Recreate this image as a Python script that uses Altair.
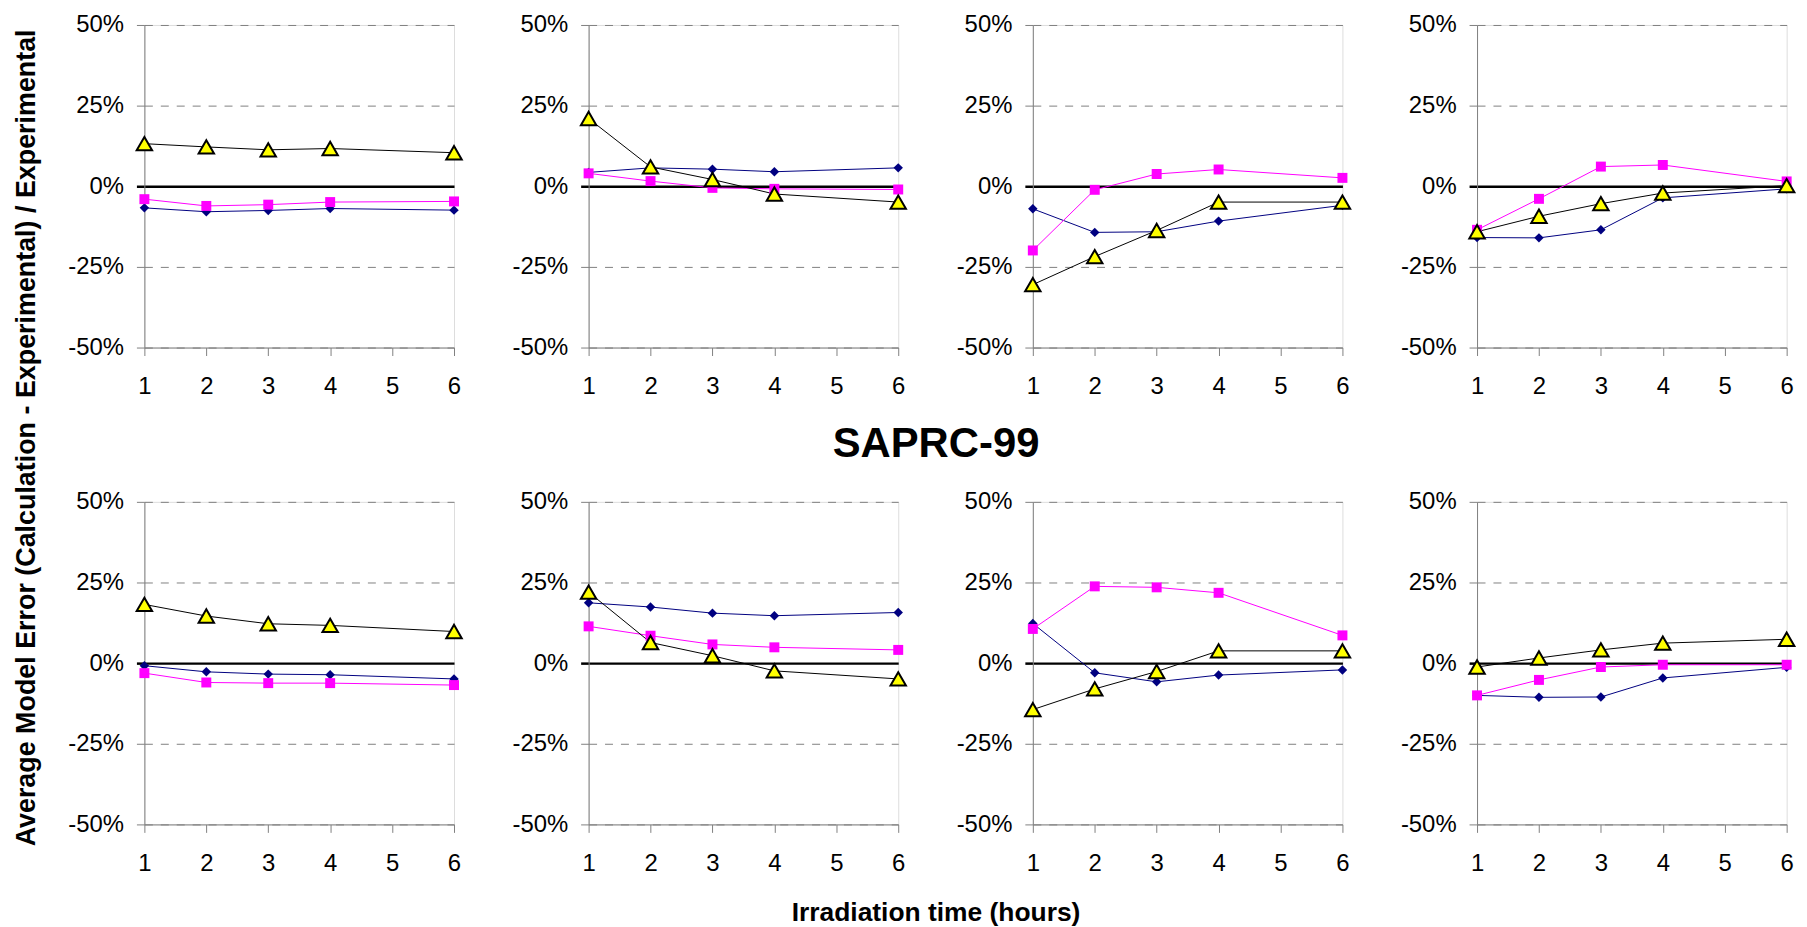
import altair as alt
import pandas as pd

FONT = "Liberation Sans, Arial, sans-serif"

HOURS = [1, 2, 3, 4, 6]
SERIES = ["diamond", "square", "triangle"]

# Values in percent (top row, then bottom row)
p1_diamond = [-6.7, -7.9, -7.5, -6.9, -7.4]
p1_square = [-4.0, -6.1, -5.7, -4.9, -4.7]
p1_triangle = [13.2, 12.2, 11.3, 11.7, 10.4]

p2_diamond = [4.3, 5.7, 5.3, 4.5, 5.7]
p2_square = [4.0, 1.6, -0.5, -0.8, -1.0]
p2_triangle = [21.0, 6.0, 2.1, -2.4, -4.9]

p3_diamond = [-7.0, -14.3, -14.1, -10.8, -5.9]
p3_square = [-19.9, -1.1, 3.8, 5.2, 2.6]
p3_triangle = [-30.5, -21.8, -13.7, -4.9, -4.9]

p4_diamond = [-15.9, -16.0, -13.5, -3.6, -0.8]
p4_square = [-13.5, -3.9, 6.1, 6.6, 1.5]
p4_triangle = [-14.1, -9.3, -5.4, -2.1, 0.2]

p5_diamond = [-0.8, -2.7, -3.4, -3.6, -4.9]
p5_square = [-3.1, -6.0, -6.2, -6.2, -6.8]
p5_triangle = [18.2, 14.6, 12.2, 11.7, 9.8]

p6_diamond = [18.7, 17.4, 15.5, 14.7, 15.7]
p6_square = [11.4, 8.5, 5.8, 4.9, 4.1]
p6_triangle = [22.0, 6.4, 2.3, -2.4, -4.9]

p7_diamond = [12.3, -3.0, -5.8, -3.7, -2.1]
p7_square = [10.6, 23.8, 23.5, 21.8, 8.6]
p7_triangle = [-14.4, -8.0, -2.6, 3.8, 3.8]

p8_diamond = [-10.0, -10.6, -10.5, -4.6, -1.3]
p8_square = [-10.0, -5.2, -1.2, -0.5, -0.5]
p8_triangle = [-1.2, 1.6, 4.1, 6.2, 7.4]

PANELS = [
    (p1_diamond, p1_square, p1_triangle),
    (p2_diamond, p2_square, p2_triangle),
    (p3_diamond, p3_square, p3_triangle),
    (p4_diamond, p4_square, p4_triangle),
    (p5_diamond, p5_square, p5_triangle),
    (p6_diamond, p6_square, p6_triangle),
    (p7_diamond, p7_square, p7_triangle),
    (p8_diamond, p8_square, p8_triangle),
]

X_TICKS = [1, 2, 3, 4, 5, 6]
Y_TICKS = [-0.5, -0.25, 0, 0.25, 0.5]

Y_TITLE = "Average Model Error (Calculation - Experimental) / Experimental"
X_TITLE = "Irradiation time (hours)"
MID_TITLE = "SAPRC-99"

W, H = 311, 324
AXIS_GREY = "#808080"


def panel_df(vals):
    rows = []
    for s, series_vals in zip(SERIES, vals):
        for h, v in zip(HOURS, series_vals):
            rows.append({"series": s, "hours": h, "err": v / 100.0})
    return pd.DataFrame(rows)


is_zero = "datum.value === 0"

x_enc = alt.X(
    "hours:Q",
    scale=alt.Scale(domain=[1, 6], nice=False, zero=False),
    axis=alt.Axis(
        values=X_TICKS, title=None, grid=False, format="d",
        domainColor=AXIS_GREY, tickColor=AXIS_GREY, tickSize=8,
        labelFont=FONT, labelFontSize=24, labelColor="black",
        labelPadding=19, labelFlush=False, labelOverlap=False,
    ),
)
y_enc = alt.Y(
    "err:Q",
    scale=alt.Scale(domain=[-0.5, 0.5], nice=False, zero=False),
    axis=alt.Axis(
        values=Y_TICKS, title=None, grid=True,
        gridColor=alt.condition(is_zero, alt.value("black"), alt.value(AXIS_GREY)),
        gridDash=alt.condition(is_zero, alt.value([]), alt.value([8, 8])),
        gridWidth=alt.condition(is_zero, alt.value(2.5), alt.value(1)),
        tickColor=alt.condition(is_zero, alt.value("black"), alt.value(AXIS_GREY)),
        tickWidth=alt.condition(is_zero, alt.value(2.5), alt.value(1)),
        domainColor=AXIS_GREY, tickSize=8,
        labelExpr="round(datum.value * 100) + '%'",
        labelFont=FONT, labelFontSize=24, labelColor="black",
        labelPadding=13, labelOverlap=False,
    ),
)


def make_panel(vals):
    base = alt.Chart(panel_df(vals))
    lines = base.mark_line(strokeWidth=1).encode(
        x=x_enc, y=y_enc,
        color=alt.Color("series:N",
                        scale=alt.Scale(domain=SERIES, range=["#000080", "#FF00FF", "black"]),
                        legend=None),
        detail="series:N",
    )
    diamonds = base.transform_filter("datum.series === 'diamond'").mark_point(
        shape="diamond", filled=True, color="#000080", size=90, opacity=1
    ).encode(x=x_enc, y=y_enc)
    squares = base.transform_filter("datum.series === 'square'").mark_point(
        shape="square", filled=True, color="#FF00FF", size=100, opacity=1
    ).encode(x=x_enc, y=y_enc)
    triangles = base.transform_filter("datum.series === 'triangle'").mark_point(
        shape="triangle-up", filled=True, fill="#FFFF00", stroke="black",
        strokeWidth=2, size=240, opacity=1
    ).encode(x=x_enc, y=y_enc)
    return alt.layer(lines, diamonds, squares, triangles).properties(width=W, height=H)


panels = [make_panel(v) for v in PANELS]

top_row = alt.hconcat(*panels[:4], spacing=135.2, bounds="flush")
bottom_row = alt.hconcat(
    *panels[4:], spacing=135.2, bounds="flush",
    title=alt.TitleParams(MID_TITLE, font=FONT, fontSize=42, fontWeight="bold",
                          color="black", anchor="middle", offset=24, dx=3),
)
inner = alt.vconcat(
    top_row, bottom_row, spacing=23,
    title=alt.TitleParams(X_TITLE, orient="bottom", font=FONT, fontSize=26.5,
                          fontWeight="bold", color="black", anchor="middle",
                          offset=25, dx=3),
)
chart = alt.vconcat(
    inner,
    title=alt.TitleParams(Y_TITLE, orient="left", font=FONT, fontSize=27,
                          fontWeight="bold", color="black", anchor="middle",
                          offset=26, dx=32),
    padding={"left": 5, "top": 2, "right": 0, "bottom": 0},
).configure_view(stroke=None).configure(background="white")

chart.save("out.html", embed_options={"renderer": "svg", "actions": False})
